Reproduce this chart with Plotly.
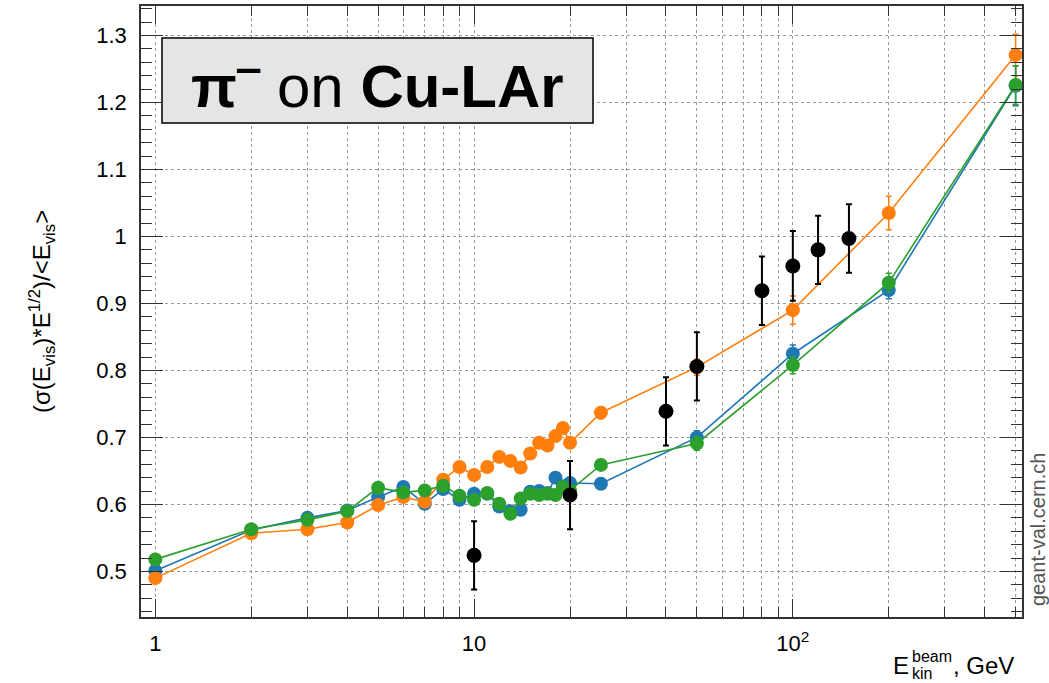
import plotly.graph_objects as go

# ---------------- data ----------------
energy = [1, 2, 3, 4, 5, 6, 7, 8, 9, 10, 11, 12, 13, 14, 15, 16, 17, 18, 19, 20, 25, 50, 100, 200, 500]

blue_val = [0.501, 0.562, 0.580, 0.591, 0.611, 0.626, 0.601, 0.623, 0.607, 0.616, 0.616, 0.597, 0.590,
            0.592, 0.619, 0.620, 0.617, 0.640, 0.627, 0.632, 0.631, 0.700, 0.825, 0.920, 1.225]
blue_err = [0.006, 0.006, 0.006, 0.006, 0.006, 0.006, 0.006, 0.006, 0.006, 0.007, 0.007, 0.007, 0.007,
            0.007, 0.007, 0.007, 0.007, 0.007, 0.007, 0.007, 0.008, 0.010, 0.013, 0.013, 0.030]

orange_val = [0.490, 0.557, 0.563, 0.573, 0.599, 0.611, 0.604, 0.637, 0.656, 0.644, 0.656, 0.671, 0.665,
              0.655, 0.676, 0.692, 0.688, 0.702, 0.714, 0.692, 0.737, 0.805, 0.890, 1.035, 1.271]
orange_err = [0.006, 0.006, 0.006, 0.006, 0.006, 0.006, 0.006, 0.007, 0.007, 0.007, 0.007, 0.007, 0.007,
              0.007, 0.007, 0.007, 0.007, 0.008, 0.008, 0.008, 0.009, 0.012, 0.021, 0.025, 0.031]

green_val = [0.518, 0.563, 0.577, 0.590, 0.625, 0.618, 0.621, 0.628, 0.613, 0.607, 0.617, 0.601, 0.586,
             0.609, 0.616, 0.614, 0.616, 0.614, 0.626, 0.621, 0.659, 0.691, 0.808, 0.931, 1.226]
green_err = [0.006, 0.006, 0.006, 0.006, 0.006, 0.006, 0.006, 0.006, 0.006, 0.007, 0.007, 0.007, 0.007,
             0.007, 0.007, 0.007, 0.007, 0.007, 0.007, 0.007, 0.008, 0.010, 0.013, 0.014, 0.029]

data_energy = [10, 20, 40, 50, 80, 100, 120, 150]
data_val = [0.524, 0.614, 0.739, 0.806, 0.919, 0.956, 0.980, 0.997]
data_err = [0.051, 0.051, 0.051, 0.051, 0.051, 0.052, 0.051, 0.051]

x_major = [1, 10, 100]
x_major_text = ["1", "10", "10<sup>2</sup>"]
x_minor = [2, 3, 4, 5, 6, 7, 8, 9, 20, 30, 40, 50, 60, 70, 80, 90, 200, 300, 400, 500]

FONT = "Liberation Sans, Arial, Helvetica, sans-serif"

fig = go.Figure()

def add_series(xv, yv, ev, color, size, lw):
    fig.add_trace(go.Scatter(
        x=xv, y=yv, mode="lines+markers",
        line=dict(color=color, width=lw),
        marker=dict(color=color, size=size, line=dict(width=0)),
        error_y=dict(type="data", array=ev, visible=True, color=color, thickness=1.5, width=3),
        showlegend=False,
    ))

add_series(energy, blue_val, blue_err, "#1f77b4", 14, 1.6)
add_series(energy, orange_val, orange_err, "#ff7f0e", 14, 1.6)
add_series(energy, green_val, green_err, "#2ca02c", 14, 1.6)

fig.add_trace(go.Scatter(
    x=data_energy, y=data_val, mode="markers",
    marker=dict(color="black", size=15, line=dict(width=0)),
    error_y=dict(type="data", array=data_err, visible=True, color="black", thickness=2, width=3),
    showlegend=False,
))

W, H = 1049, 683
L, R, T, B = 141, 27, 6, 66
pw = W - L - R
ph = H - T - B

def px(x):
    return (x - L) / pw

def py(y):
    return (H - B - y) / ph

fig.update_layout(
    template="none",
    width=W, height=H,
    margin=dict(l=L, r=R, t=T, b=B, autoexpand=False),
    paper_bgcolor="white", plot_bgcolor="white",
    font=dict(family=FONT, size=22, color="black"),
)

fig.update_xaxes(
    type="log", range=[-0.045, 2.719], automargin=False,
    tickmode="array", tickvals=x_major, ticktext=x_major_text,
    ticks="inside", ticklen=18, tickwidth=1.2, tickcolor="#333",
    showline=True, linecolor="#333", linewidth=1.5, mirror="allticks",
    showgrid=True, gridcolor="#9a9a9a", griddash="dot", gridwidth=1,
    tickfont=dict(size=22, family=FONT, color="black"),
    ticklabelstandoff=6,
    zeroline=False,
    minor=dict(tickmode="array", tickvals=x_minor, ticks="inside", ticklen=10,
               tickwidth=1.2, tickcolor="#333", showgrid=True,
               gridcolor="#9a9a9a", griddash="dot", gridwidth=1),
)

fig.update_yaxes(
    range=[0.432, 1.344], automargin=False,
    tickmode="linear", tick0=0, dtick=0.1,
    ticks="inside", ticklen=22, tickwidth=1.2, tickcolor="#333",
    showline=True, linecolor="#333", linewidth=1.5, mirror="allticks",
    showgrid=True, gridcolor="#9a9a9a", griddash="dot", gridwidth=1,
    tickfont=dict(size=22, family=FONT, color="black"),
    ticklabelstandoff=8,
    zeroline=False,
    minor=dict(dtick=0.02, tick0=0, ticks="inside", ticklen=11, tickwidth=1.2,
               tickcolor="#333", showgrid=False),
)

# title box
fig.add_shape(type="rect", xref="paper", yref="paper",
              x0=px(162), x1=px(593), y0=py(123), y1=py(38),
              fillcolor="#e5e5e5", line=dict(color="black", width=1.5), layer="above")

fig.add_annotation(xref="paper", yref="paper", x=px(377), y=py(82),
                   xanchor="center", yanchor="middle", showarrow=False,
                   text="<b>π</b><sup><b>‒</b></sup> on <b>Cu-LAr</b>",
                   font=dict(family=FONT, size=60, color="black"))

# y-axis title
fig.add_annotation(xref="paper", yref="paper", x=px(42), y=py(312),
                   xanchor="center", yanchor="middle", showarrow=False, textangle=-90,
                   text="(σ(E<sub>vis</sub>)*E<sup>1/2</sup>)/&lt;E<sub>vis</sub>&gt;",
                   font=dict(family=FONT, size=24, color="black"))

# x-axis title pieces
fig.add_annotation(xref="paper", yref="paper", x=px(891), y=py(666),
                   xanchor="left", yanchor="middle", showarrow=False,
                   text="E", font=dict(family=FONT, size=24, color="black"))
fig.add_annotation(xref="paper", yref="paper", x=px(910), y=py(656),
                   xanchor="left", yanchor="middle", showarrow=False,
                   text="beam", font=dict(family=FONT, size=16, color="black"))
fig.add_annotation(xref="paper", yref="paper", x=px(910), y=py(673),
                   xanchor="left", yanchor="middle", showarrow=False,
                   text="kin", font=dict(family=FONT, size=16, color="black"))
fig.add_annotation(xref="paper", yref="paper", x=px(951), y=py(666),
                   xanchor="left", yanchor="middle", showarrow=False,
                   text=", GeV", font=dict(family=FONT, size=24, color="black"))

# watermark
fig.add_annotation(xref="paper", yref="paper", x=px(1038), y=py(530),
                   xanchor="center", yanchor="middle", showarrow=False, textangle=-90,
                   text="geant-val.cern.ch", font=dict(family=FONT, size=20, color="#555555"))

fig.write_html("out.html", config={"displayModeBar": False},
               post_script="document.body.style.margin='0';document.body.style.overflow='hidden';")
